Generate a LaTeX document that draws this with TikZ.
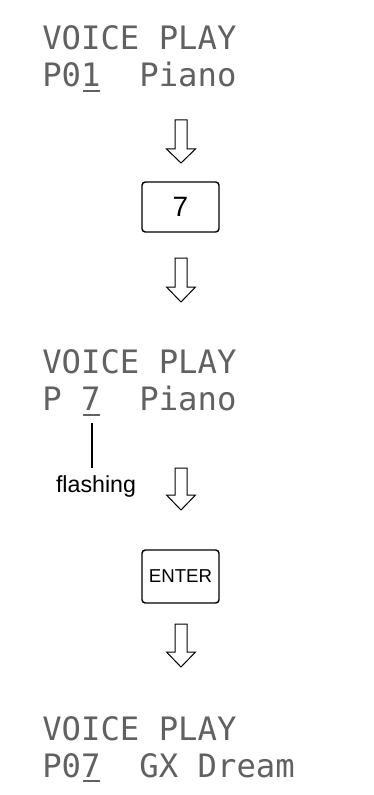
\documentclass[tikz,border=0pt]{standalone}
\usepackage{fontspec}
\setmainfont{Liberation Sans}
\newfontfamily\lcdfont{DejaVu Sans Mono}
\newcommand\hollowarrow[3]{%
  \draw[blockarrow] (175,#1) -- (187,#1) -- (187,#2) -- (195.5,#2) -- (181,#3)
    -- (166.5,#2) -- (175,#2) -- cycle;}
\begin{document}
\begin{tikzpicture}[x=0.75pt,y=-0.75pt,
  lcdtext/.style={anchor=base west, inner sep=0pt,
    font=\lcdfont\fontsize{24.2pt}{29pt}\selectfont, text=black!62},
  cursorline/.style={line width=1.2pt, draw=black!62},
  keybox/.style={draw, line width=1.1pt, rounded corners=2.5pt,
    minimum width=57.75pt, inner sep=0pt},
  blockarrow/.style={draw, line width=0.75pt, line join=miter},
  leader/.style={draw, line width=0.8pt}
]
\useasboundingbox (0,0) rectangle (374,795);

% first display
\node[lcdtext] (l1) at (42,50) {VOICE PLAY};
\node[lcdtext] (l2) at (42,87) {P01~~Piano};
\draw[cursorline] (83,91) -- (100,91);

\hollowarrow{120}{149}{163}

\node[keybox, minimum height=37.5pt, font=\fontsize{21pt}{24pt}\selectfont] (seven) at (180.5,207) {7};

\hollowarrow{258}{287}{302}

% second display
\node[lcdtext] (l3) at (42,373) {VOICE PLAY};
\node[lcdtext] (l4) at (42,410) {P~7~~Piano};
\draw[cursorline] (83,415) -- (100,415);
\coordinate (lead) at (92,423);

\node[anchor=base, inner sep=0pt, font=\fontsize{17.4pt}{20pt}\selectfont] (flash) at (96,492) {flashing};
\draw[leader] (lead) -- (lead |- flash.north) [shorten >=5pt];

\hollowarrow{468}{495}{510}

\node[keybox, minimum height=39.75pt, font=\fontsize{14pt}{16pt}\selectfont] (enter) at (180.5,576.5) {ENTER};

\hollowarrow{624}{652}{667}

% third display
\node[lcdtext] (l5) at (42,740) {VOICE PLAY};
\node[lcdtext] (l6) at (42,777) {P07~~GX Dream};
\draw[cursorline] (83,781) -- (100,781);
\end{tikzpicture}
\end{document}
